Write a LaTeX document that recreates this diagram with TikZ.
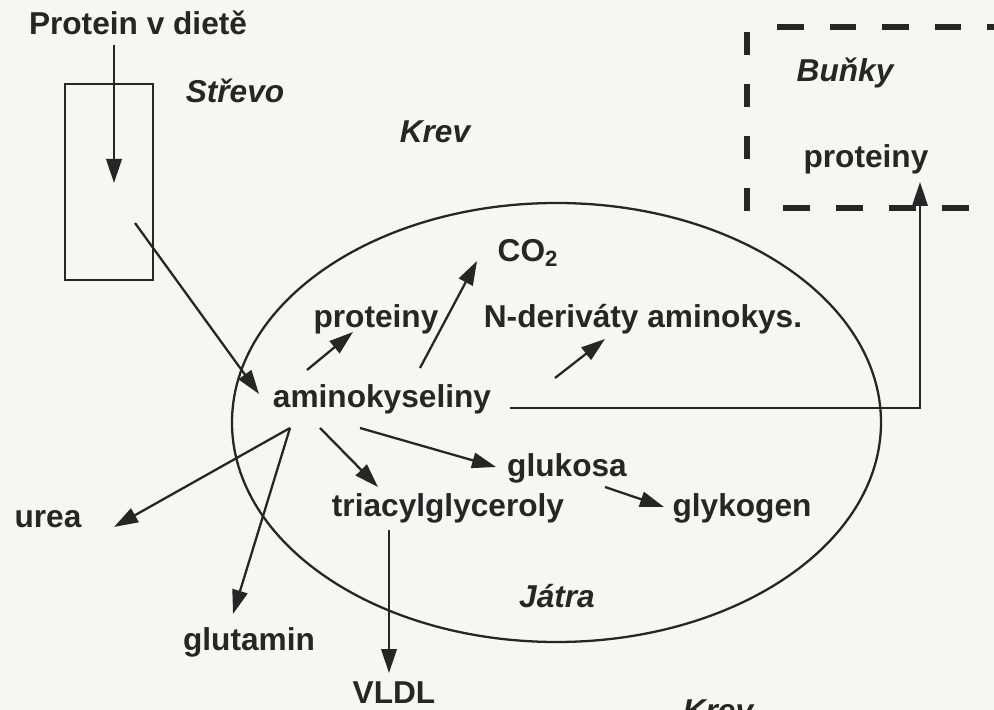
\documentclass[tikz,border=0pt]{standalone}
\usepackage{fontspec}
\setmainfont{Liberation Sans}
\usepackage{tikz}
\usetikzlibrary{arrows.meta,positioning,shapes.geometric}
\definecolor{ink}{HTML}{262626}
\definecolor{paper}{HTML}{F6F6F4}

\begin{document}
\begin{tikzpicture}[
    x=0.2mm, y=-0.2mm,
    every node/.style={font=\fontsize{18}{21}\selectfont\bfseries, text=ink,
                       anchor=base, inner sep=0pt},
    region/.style={font=\fontsize{18}{21}\selectfont\bfseries\itshape},
    arr/.style={-{Triangle[length=4.8mm, width=3.1mm]}, line width=1.3pt, draw=ink},
    wall/.style={line width=1.2pt, draw=ink},
    cellwall/.style={line width=2.9pt, draw=ink}
]
\clip (0,0) rectangle (994,710);
\fill[paper] (0,0) rectangle (994,710);

% ── Střevo ────────────────────────────────────────────────────────────────
\node[wall, minimum width=17.6mm, minimum height=39.2mm, anchor=center] (gut) at (109,182) {};
\node (diet) at (138,35) {Protein v dietě};
\node[region] (strevo) at (235,103) {Střevo};
\coordinate (dietin) at (114,45);
\coordinate (gutin) at (114,183);
\coordinate (gutout) at (135,223);
\draw[arr] (dietin) -- (gutin);

% ── Krev ──────────────────────────────────────────────────────────────────
\node[region] (krev) at (435,143) {Krev};
\node[region] (krevlow) at (718,721) {Krev};

% ── Buňky ─────────────────────────────────────────────────────────────────
\draw[cellwall, dash pattern=on 5.3mm off 5.2mm] (777,27) -- (1000,27);
\draw[cellwall, dash pattern=on 4.6mm off 5.8mm] (747,32) -- (747,208) -- (757,208);
\draw[cellwall, dash pattern=on 5.3mm off 5.3mm] (783,208) -- (1000,208);
\node[region] (bunky) at (845,82) {Buňky};
\node (cprot) at (866,168) {proteiny};

% ── Játra ─────────────────────────────────────────────────────────────────
\node[ellipse, draw=ink, line width=1.3pt, minimum width=129.8mm,
      minimum height=87.8mm, anchor=center] (liver) at (556.5,422.5) {};
\node[region] (jatra) at (557,607) {Játra};
\node (amino) at (382,408) {aminokyseliny};
\node (prot) at (376,328) {proteiny};
\node (co2) at (528,262) {CO\textsubscript{2}};
\node (nder) at (643,328) {N-deriváty aminokys.};
\node (gluk) at (567,477) {glukosa};
\node (tag) at (448,517) {triacylglyceroly};
\node (glyk) at (742,517) {glykogen};

% ── Mimo játra ────────────────────────────────────────────────────────────
\node (urea) at (48,527) {urea};
\node (glut) at (249,650) {glutamin};
\node (vldl) at (394,703) {VLDL};

% ── Konce šipek ───────────────────────────────────────────────────────────
\coordinate (aminoin) at (259,394);
\coordinate (aminoR) at (510,408);
\coordinate (cprotB) at (920,182);
\coordinate (aprot) at (307,370);
\coordinate (prothead) at (353,332);
\coordinate (aco2) at (420,368);
\coordinate (co2head) at (477,261);
\coordinate (ander) at (555,378);
\coordinate (nderhead) at (605,339);
\coordinate (asw) at (290,428);
\coordinate (ureahead) at (114,527);
\coordinate (gluthead) at (233,614);
\coordinate (atag) at (320,428);
\coordinate (taghead) at (378,487);
\coordinate (agluk) at (360,428);
\coordinate (glukhead) at (496,467);
\coordinate (glukout) at (605,487);
\coordinate (glykhead) at (664,507);
\coordinate (tagout) at (389,530);
\coordinate (vldlhead) at (389,673);

% ── Šipky ─────────────────────────────────────────────────────────────────
\draw[arr] (gutout) -- (aminoin);
\draw[arr] (aminoR) -| (cprotB);
\draw[arr] (aprot) -- (prothead);
\draw[arr] (aco2) -- (co2head);
\draw[arr] (ander) -- (nderhead);
\draw[arr] (asw) -- (ureahead);
\draw[arr] (asw) -- (gluthead);
\draw[arr] (atag) -- (taghead);
\draw[arr] (agluk) -- (glukhead);
\draw[arr] (glukout) -- (glykhead);
\draw[arr] (tagout) -- (vldlhead);

\end{tikzpicture}
\end{document}
